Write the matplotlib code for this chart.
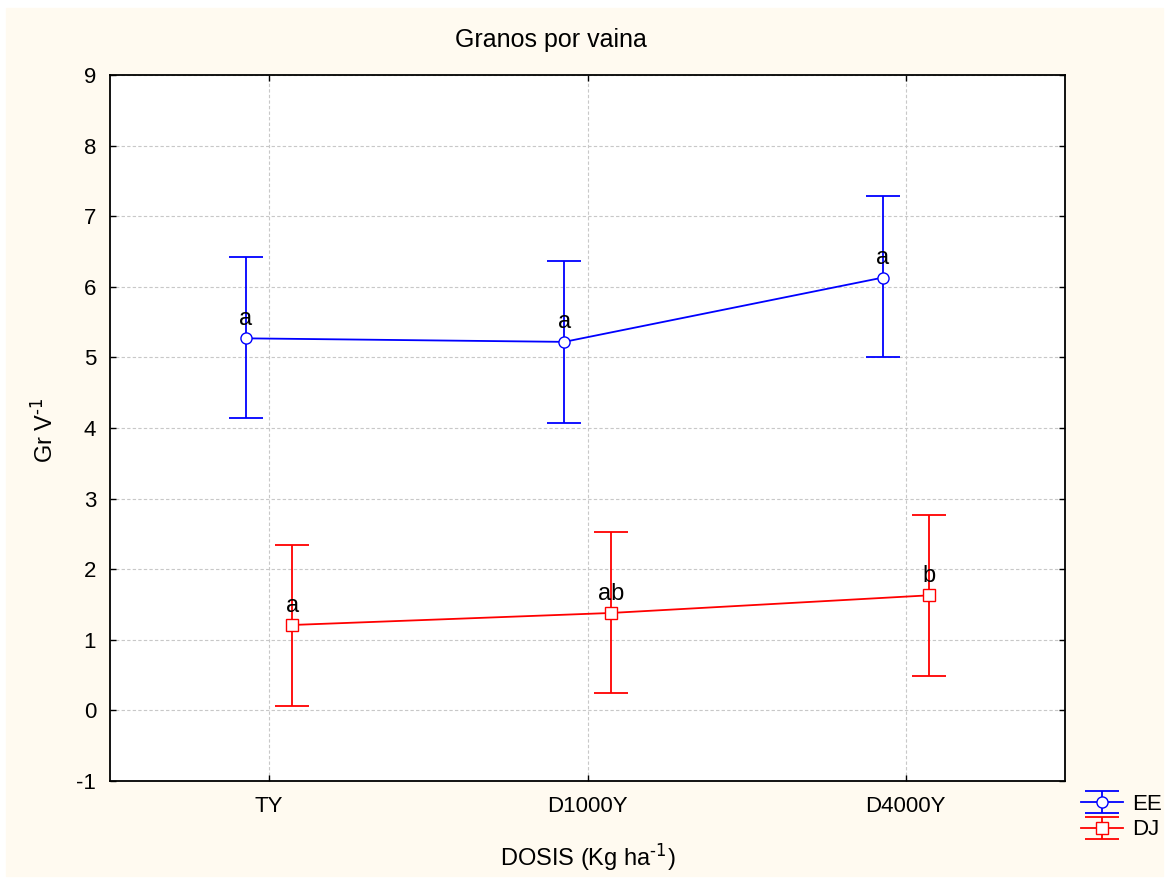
import numpy as np
import matplotlib.pyplot as plt

plt.rcParams['font.family'] = ['Liberation Sans', 'DejaVu Sans']
plt.rcParams['axes.unicode_minus'] = False
plt.rcParams['mathtext.default'] = 'regular'

# Data
dosis = ['TY', 'D1000Y', 'D4000Y']
ee_mean = [5.27, 5.22, 6.13]
ee_hi = [6.42, 6.37, 7.29]
ee_lo = [4.14, 4.07, 5.00]
dj_mean = [1.21, 1.38, 1.63]
dj_hi = [2.34, 2.53, 2.77]
dj_lo = [0.06, 0.25, 0.49]
ee_letras = ['a', 'a', 'a']
dj_letras = ['a', 'ab', 'b']

fs = 17

fig = plt.figure(figsize=(11.69, 8.84), dpi=100, facecolor='white')
# cream background panel
fig.patches.append(plt.Rectangle((6 / 1169, 8 / 884), 1157 / 1169, 868 / 884,
                                 transform=fig.transFigure, color='#FFFAF0', zorder=-10))
ax = fig.add_axes([110 / 1169, 1 - 781 / 884, 955 / 1169, 706 / 884])
ax.set_facecolor('white')

x = np.arange(len(dosis))
off = 0.073

def serie(m, hi, lo, dx, color, marker, label, letras):
    m, hi, lo = np.array(m), np.array(hi), np.array(lo)
    ax.errorbar(x + dx, m, yerr=[m - lo, hi - m], color=color, ecolor=color,
                marker=marker, mfc='white', mec=color, ms=8, lw=1.3,
                elinewidth=1.3, capsize=12, capthick=1.3, label=label, zorder=3)
    for xi, yi, t in zip(x + dx, m, letras):
        ax.text(xi, yi + 0.12, t, ha='center', va='bottom', fontsize=fs, zorder=4)

serie(ee_mean, ee_hi, ee_lo, -off, '#0000FF', 'o', 'EE', ee_letras)
serie(dj_mean, dj_hi, dj_lo, off, '#FF0000', 's', 'DJ', dj_letras)

ax.set_xlim(-0.5, 2.5)
ax.set_ylim(-1, 9)
ax.set_yticks(range(-1, 10))
ax.set_xticks(x)
ax.set_xticklabels(dosis)
ax.tick_params(labelsize=16, length=4, width=1, direction='in',
               top=True, right=True)
ax.tick_params(axis='x', pad=11)
ax.tick_params(axis='y', pad=10)
ax.grid(True, color='#C8C8C8', linestyle=(0, (3, 2)), linewidth=0.8)
ax.set_axisbelow(True)
for s in ax.spines.values():
    s.set_linewidth(1.3)

fig.text(551 / 1169, 1 - 40 / 884, 'Granos por vaina', ha='center', va='center', fontsize=18)
fig.text(44 / 1169, 1 - 430 / 884, r'Gr V$^{\text{-1}}$', rotation=90,
         ha='center', va='center', fontsize=fs)
fig.text(588 / 1169, 1 - 857 / 884, r'DOSIS (Kg ha$^{\text{-1}}$)',
         ha='center', va='center', fontsize=fs)

leg = fig.legend(loc='upper left', bbox_to_anchor=(1081 / 1169, 1 - 794 / 884),
                 frameon=False, fontsize=16, handlelength=1.9, handletextpad=0.4,
                 labelspacing=0.2, borderaxespad=0, borderpad=0)

fig.savefig('out.png', dpi=100, facecolor=fig.get_facecolor())
